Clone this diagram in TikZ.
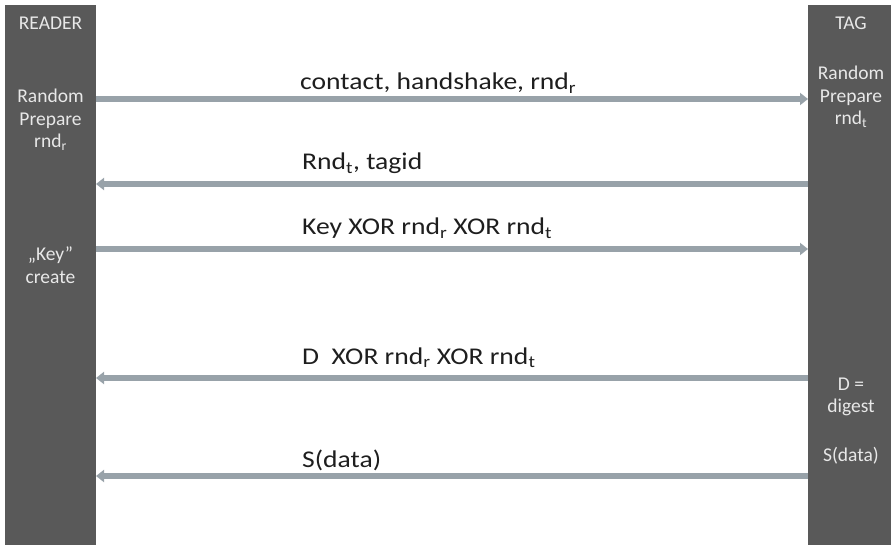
\documentclass[tikz,border=0pt]{standalone}
\usepackage{fontspec}
\setmainfont{Carlito}
\newfontfamily\msgfont{Carlito}[FakeStretch=1.15]
\usetikzlibrary{arrows.meta,positioning}
\definecolor{bargray}{RGB}{89,89,89}
\definecolor{bartext}{RGB}{232,232,232}
\definecolor{msggray}{RGB}{152,162,169}
\definecolor{msgtext}{RGB}{30,30,30}

\begin{document}
\begin{tikzpicture}[x=1pt,y=-1pt,>={Triangle[length=8pt,width=12pt]},
    party/.style={fill=bargray,inner sep=0pt,outer sep=0pt,anchor=north west,minimum height=540pt},
    act/.style={text=bartext,font=\fontsize{19.5}{22.5}\selectfont,align=center},
    msg/.style={->,draw=msggray,line width=6pt},
    lbl/.style={text=msgtext,font=\msgfont\fontsize{24}{28}\selectfont,anchor=base west,inner sep=0pt}]

	\useasboundingbox (0,0) rectangle (891,545);
	\node[party,minimum width=91pt](reader) at (5,5){};
	\node[party,minimum width=83pt](tag) at (808,5){};

	\node[act](rname) at (50.5,23){READER};
	\node[act](rrnd) at (50.5,120){Random\\Prepare\\rnd\textsubscript{r}};
	\node[act](rkey) at (50.5,265){„Key”\\create};
	\node[act](tname) at (851,23){TAG};
	\node[act](trnd) at (851,97){Random\\Prepare\\rnd\textsubscript{t}};
	\node[act](tdig) at (851,397){D =\\digest};
	\node[act](tsig) at (851,456){S(data)};

	% message rows
	\coordinate (m1) at (0,99);
	\coordinate (m2) at (0,184);
	\coordinate (m3) at (0,249);
	\coordinate (m4) at (0,378);
	\coordinate (m5) at (0,476);

	\draw[msg] (reader.east |- m1) -- (tag.west |- m1);
	\draw[msg] (tag.west |- m2) -- (reader.east |- m2);
	\draw[msg] (reader.east |- m3) -- (tag.west |- m3);
	\draw[msg] (tag.west |- m4) -- (reader.east |- m4);
	\draw[msg] (tag.west |- m5) -- (reader.east |- m5);

	\node[lbl](l1) at (300,90){contact, handshake, rnd\textsubscript{r}};
	\node[lbl](l2) at (302,170){Rnd\textsubscript{t}, tagid};
	\node[lbl](l3) at (302,235){Key XOR rnd\textsubscript{r} XOR rnd\textsubscript{t}};
	\node[lbl](l4) at (302,364){D\ \ XOR rnd\textsubscript{r} XOR rnd\textsubscript{t}};
	\node[lbl](l5) at (302,467){S(data)};
\end{tikzpicture}
\end{document}
